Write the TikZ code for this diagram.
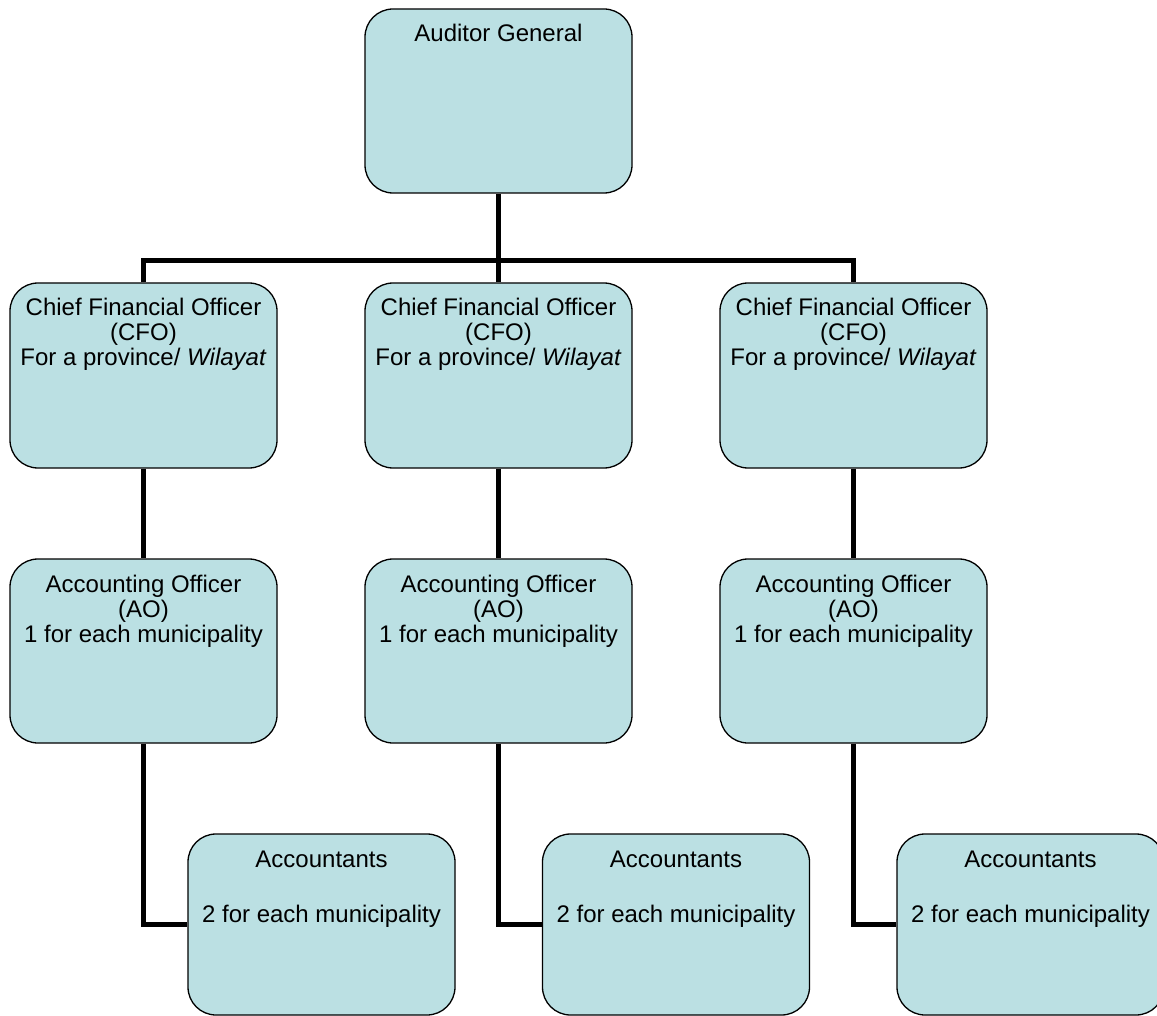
\documentclass[tikz,border=0pt]{standalone}
\usepackage{fontspec}
\setmainfont{Liberation Sans}
\definecolor{boxfill}{RGB}{187,224,227}
\tikzset{
  orgbox/.style={draw=black, line width=1.3pt, fill=boxfill, rounded corners=28pt, inner sep=0pt},
  link/.style={draw=black, line width=5pt, line join=miter},
}
% box contents: fixed height, text starting near the top
\newcommand\orgtext[2]{\parbox[t][#1][t]{267pt}{\centering\fontsize{24}{25}\selectfont\rule{0pt}{33pt}#2}}
\begin{document}
\begin{tikzpicture}[x=1pt, y=-1pt]
  \useasboundingbox (0,0) rectangle (1157,1016);

  % top
  \node[orgbox] (ag) at (498.5,101) {\orgtext{184pt}{Auditor General}};

  % provinces
  \node[orgbox] (c1) at (143.5,375.5) {\orgtext{185pt}{Chief Financial Officer\\(CFO)\\For a province/ \textit{Wilayat}}};
  \node[orgbox] (c2) at (498.5,375.5) {\orgtext{185pt}{Chief Financial Officer\\(CFO)\\For a province/ \textit{Wilayat}}};
  \node[orgbox] (c3) at (853.5,375.5) {\orgtext{185pt}{Chief Financial Officer\\(CFO)\\For a province/ \textit{Wilayat}}};

  % accounting officers
  \node[orgbox] (a1) at (143.5,651) {\orgtext{184pt}{Accounting Officer\\(AO)\\1 for each municipality}};
  \node[orgbox] (a2) at (498.5,651) {\orgtext{184pt}{Accounting Officer\\(AO)\\1 for each municipality}};
  \node[orgbox] (a3) at (853.5,651) {\orgtext{184pt}{Accounting Officer\\(AO)\\1 for each municipality}};

  % accountants
  \node[orgbox] (acc1) at (321.5,924.5) {\orgtext{181pt}{Accountants\\[30pt]2 for each municipality}};
  \node[orgbox] (acc2) at (676,924.5) {\orgtext{181pt}{Accountants\\[30pt]2 for each municipality}};
  \node[orgbox] (acc3) at (1030.5,924.5) {\orgtext{181pt}{Accountants\\[30pt]2 for each municipality}};

  % connectors
  \coordinate (bar) at (498.5,261);
  \draw[link] (ag.south) -- (bar);
  \draw[link] (c1.north) -- (c1.north |- bar) -- (c3.north |- bar) -- (c3.north);
  \draw[link] (c2.north) -- (c2.north |- bar);

  \draw[link] (c1.south) -- (a1.north);
  \draw[link] (c2.south) -- (a2.north);
  \draw[link] (c3.south) -- (a3.north);

  \draw[link] (a1.south) |- (acc1.west);
  \draw[link] (a2.south) |- (acc2.west);
  \draw[link] (a3.south) |- (acc3.west);
\end{tikzpicture}
\end{document}
